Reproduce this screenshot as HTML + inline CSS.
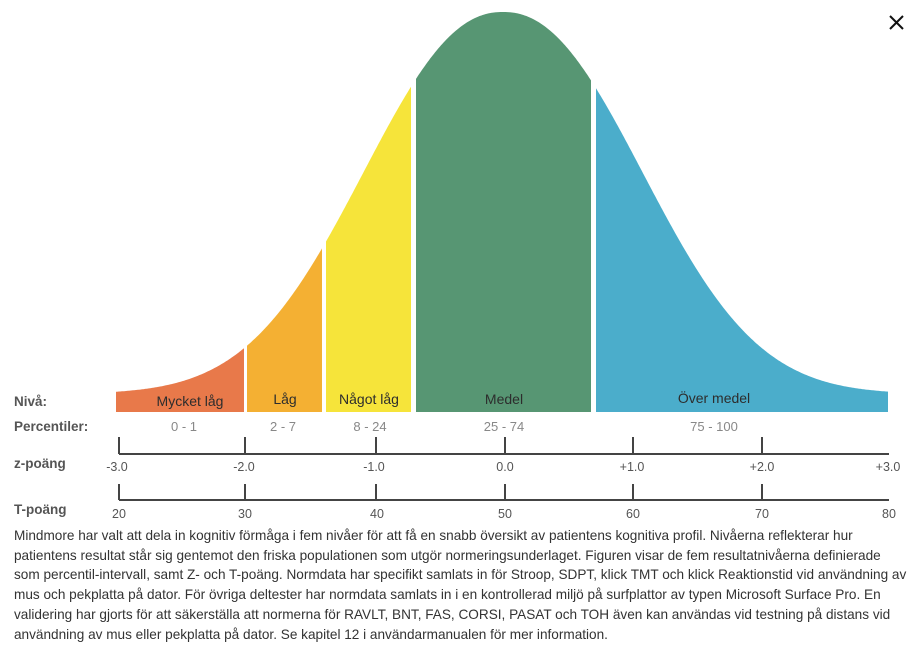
<!DOCTYPE html>
<html><head><meta charset="utf-8"><style>
body{margin:0;width:917px;height:654px;background:#fff;overflow:hidden;font-family:"Liberation Sans",sans-serif;position:relative}
svg{position:absolute;left:0;top:0}
.p{position:absolute;left:14px;top:526px;width:895px;font-size:13.6px;line-height:19.7px;color:#333}
</style></head><body>
<svg width="917" height="520" viewBox="0 0 917 520">
<defs>
<clipPath id="c"><path id="cp" d=""/></clipPath>
</defs>
<g id="segs" clip-path="url(#c)">
<rect x="116" y="0" width="128" height="412" fill="#e8794a"/>
<rect x="247" y="0" width="75" height="412" fill="#f4b033"/>
<rect x="326" y="0" width="85" height="412" fill="#f6e43a"/>
<rect x="416" y="0" width="175" height="412" fill="#579673"/>
<rect x="596" y="0" width="292" height="412" fill="#4badcb"/>
</g>
<g font-size="14" fill="#2d2d2d" text-anchor="middle">
<text x="190" y="406">Mycket låg</text><text x="285" y="404">Låg</text><text x="369" y="404">Något låg</text><text x="504" y="404">Medel</text><text x="714" y="403">Över medel</text>
</g>
<g font-size="13.5" fill="#555" font-weight="bold">
<text x="14" y="406">Nivå:</text><text x="14" y="431">Percentiler:</text><text x="14" y="468">z-poäng</text><text x="14" y="514">T-poäng</text>
</g>
<g font-size="13" fill="#888" text-anchor="middle">
<text x="184" y="431">0 - 1</text><text x="283" y="431">2 - 7</text><text x="370" y="431">8 - 24</text><text x="504" y="431">25 - 74</text><text x="714" y="431">75 - 100</text>
</g>
<g stroke="#444" stroke-width="2" fill="none">
<path d="M119 454H889M119 437V454M245 437V454M376 437V454M505 437V454M633 437V454M762 437V454"/>
<path d="M119 500H889M119 484V500M245 484V500M376 484V500M505 484V500M633 484V500M762 484V500"/>
</g>
<g font-size="12.5" fill="#555" text-anchor="middle">
<text x="117" y="471">-3.0</text><text x="244" y="471">-2.0</text><text x="374" y="471">-1.0</text><text x="505" y="471">0.0</text><text x="632" y="471">+1.0</text><text x="762" y="471">+2.0</text><text x="888" y="471">+3.0</text>
<text x="119" y="518">20</text><text x="245" y="518">30</text><text x="377" y="518">40</text><text x="505" y="518">50</text><text x="633" y="518">60</text><text x="762" y="518">70</text><text x="889" y="518">80</text>
</g>
<path d="M890 16L903 29M903 16L890 29" stroke="#111" stroke-width="2"/>
</svg>
<div class="p">Mindmore har valt att dela in kognitiv förmåga i fem nivåer för att få en snabb översikt av patientens kognitiva profil. Nivåerna reflekterar hur patientens resultat står sig gentemot den friska populationen som utgör normeringsunderlaget. Figuren visar de fem resultatnivåerna definierade som percentil-intervall, samt Z- och T-poäng. Normdata har specifikt samlats in för Stroop, SDPT, klick TMT och klick Reaktionstid vid användning av mus och pekplatta på dator. För övriga deltester har normdata samlats in i en kontrollerad miljö på surfplattor av typen Microsoft Surface Pro. En validering har gjorts för att säkerställa att normerna för RAVLT, BNT, FAS, CORSI, PASAT och TOH även kan användas vid testning på distans vid användning av mus eller pekplatta på dator. Se kapitel 12 i användarmanualen för mer information.</div>
<script>
var d="M116 412";
for(var x=116;x<=888;x++){var a=Math.abs(x-503)/184;var h=18+382*Math.exp(-Math.pow(a,2.2));d+=" L"+x+" "+(412-h).toFixed(1);}
d+=" L888 412Z";
document.getElementById("cp").setAttribute("d",d);
</script>
</body></html>
